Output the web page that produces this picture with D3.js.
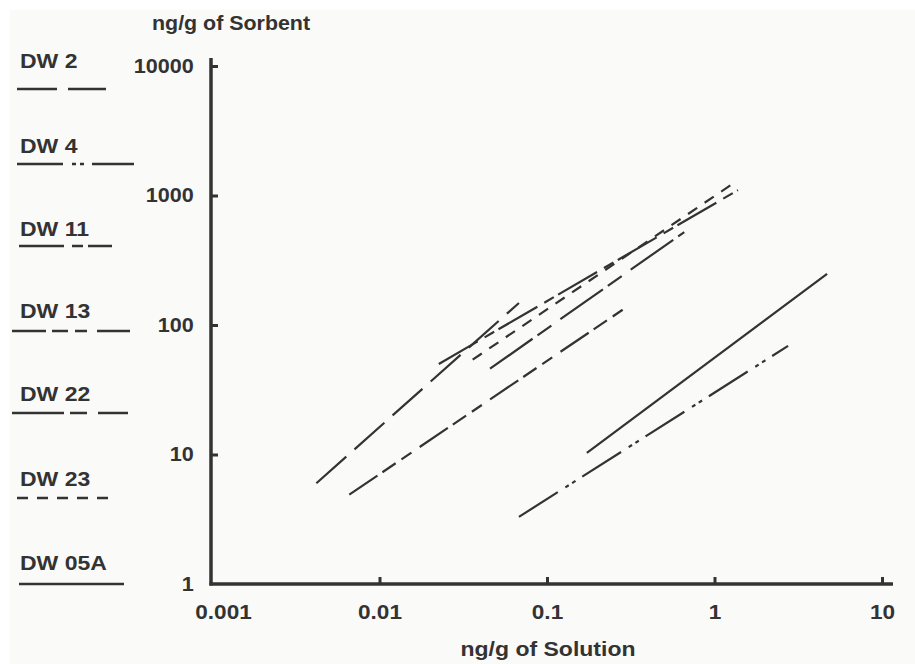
<!DOCTYPE html>
<html>
<head>
<meta charset="utf-8">
<script src="https://cdn.jsdelivr.net/npm/d3@7/dist/d3.min.js"></script>
<style>
  html, body { margin: 0; padding: 0; background: #ffffff; }
  svg { display: block; }
  text { font-family: "Liberation Sans", Arial, sans-serif; font-weight: bold; fill: #333333; }
</style>
</head>
<body>
<script>
// ---------- data ----------
const seriesNames = ["DW 2", "DW 4", "DW 11", "DW 13", "DW 22", "DW 23", "DW 05A"];
// x extent (ng/g of Solution) of each isotherm line: [start, end]
const solutionRange = [
  [0.0042, 0.068],
  [0.068, 2.75],
  [0.0226, 1.38],
  [0.0066, 0.30],
  [0.0457, 0.66],
  [0.036, 1.36],
  [0.173, 4.7]
];
// y values (ng/g of Sorbent) at those ends
const sorbentRange = [
  [6.0, 148],
  [3.3, 69],
  [50, 1100],
  [4.9, 138],
  [46, 522],
  [54, 1295],
  [10.3, 248]
];
const dashPatterns = ["40,11", "46,9,4,4,4,8", "45,8,11,5", "34,6,16,7,12,10", "52,6,17,11", "11,9", null];
const xTicks = [0.001, 0.01, 0.1, 1, 10];
const yTicks = [1, 10, 100, 1000, 10000];
const xTickLabels = ["0.001", "0.01", "0.1", "1", "10"];
const yTickLabels = ["1", "10", "100", "1000", "10000"];

// ---------- layout ----------
const W = 915, H = 664;
const ink = "#333333";
const svg = d3.select("body").append("svg").attr("width", W).attr("height", H);
svg.append("rect").attr("x", 10).attr("y", 10).attr("width", W - 10).attr("height", H - 10).attr("fill", "#fafaf8");

const x = d3.scaleLog().domain([0.001, 10]).range([212, 882]);
const y = d3.scaleLog().domain([1, 10000]).range([584, 66]);

function stretchedText(px, py, str, size, sx, anchor) {
  return svg.append("text")
    .attr("transform", `translate(${px},${py}) scale(${sx},1)`)
    .attr("font-size", size)
    .attr("text-anchor", anchor || "start")
    .text(str);
}

// axis lines
svg.append("line").attr("x1", 211).attr("x2", 211).attr("y1", 58).attr("y2", 585.5)
  .attr("stroke", ink).attr("stroke-width", 3.5);
svg.append("line").attr("x1", 209.5).attr("x2", 893).attr("y1", 584).attr("y2", 584)
  .attr("stroke", ink).attr("stroke-width", 3.5);

// axes (ticks + labels)
const xAxis = d3.axisBottom(x).tickValues(xTicks).tickFormat((d, i) => xTickLabels[i])
  .tickSizeInner(-7).tickSizeOuter(0).tickPadding(21);
const gx = svg.append("g").attr("transform", "translate(0,584)").call(xAxis);
gx.attr("font-family", null).attr("font-size", null);
gx.select(".domain").remove();
gx.selectAll(".tick line").attr("stroke", ink).attr("stroke-width", 3);
gx.selectAll(".tick").filter((d, i) => i === 0).select("line").remove();
gx.selectAll(".tick text").attr("font-size", 20).attr("fill", ink)
  .attr("transform", (d, i) => i === 0 ? "translate(11,0) scale(1.13,1)" : "scale(1.13,1)");

const yAxis = d3.axisLeft(y).tickValues(yTicks).tickFormat((d, i) => yTickLabels[i])
  .tickSizeInner(-7).tickSizeOuter(0).tickPadding(16);
const gy = svg.append("g").attr("transform", "translate(211,0)").call(yAxis);
gy.attr("font-family", null).attr("font-size", null);
gy.select(".domain").remove();
gy.selectAll(".tick line").attr("stroke", ink).attr("stroke-width", 3);
gy.selectAll(".tick").filter((d, i) => i === 0).select("line").remove();
gy.selectAll(".tick text").attr("font-size", 20).attr("fill", ink).attr("transform", "scale(1.08,1)");

// axis titles
stretchedText(152, 30, "ng/g of Sorbent", 20, 1.07);
stretchedText(548, 656, "ng/g of Solution", 20, 1.15, "middle");

// data lines
const line = d3.line().x(d => x(d[0])).y(d => y(d[1]));
seriesNames.forEach((name, i) => {
  const pts = solutionRange[i].map((sx, j) => [sx, sorbentRange[i][j]]);
  svg.append("path").datum(pts).attr("d", line)
    .attr("fill", "none").attr("stroke", ink).attr("stroke-width", 2.2)
    .attr("stroke-dasharray", dashPatterns[i]);
});

// legend
const legendTextY = [68, 153, 236, 318, 401, 486, 570];
const legendLineY = [89, 164, 246, 331, 413, 498, 584];
const legendLineX = [[17, 106], [17, 134], [19, 112], [12, 130], [12, 128], [17, 113], [19, 124]];
seriesNames.forEach((name, i) => {
  stretchedText(20, legendTextY[i], name, 20, 1.15);
  svg.append("line").attr("x1", legendLineX[i][0]).attr("x2", legendLineX[i][1])
    .attr("y1", legendLineY[i]).attr("y2", legendLineY[i])
    .attr("stroke", ink).attr("stroke-width", 2.5)
    .attr("stroke-dasharray", dashPatterns[i]);
});
</script>
</body>
</html>
